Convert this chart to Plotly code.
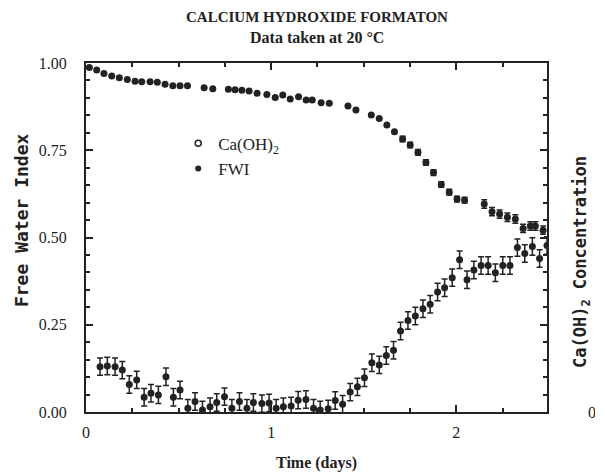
import plotly.graph_objects as go

# Free Water Index
fwi_t = [0.018, 0.058, 0.097, 0.139, 0.180, 0.223, 0.265, 0.301, 0.346, 0.385,
         0.427, 0.469, 0.508, 0.548, 0.638, 0.685, 0.769, 0.805, 0.842, 0.881,
         0.924, 0.977, 1.022, 1.063, 1.103, 1.148, 1.189, 1.222, 1.270, 1.314,
         1.415, 1.458, 1.541, 1.584, 1.625, 1.666, 1.710, 1.751, 1.793, 1.836,
         1.877, 1.919, 1.962, 2.004, 2.045, 2.151, 2.193, 2.234, 2.276, 2.319,
         2.361, 2.400, 2.427, 2.469]
fwi = [0.987, 0.980, 0.970, 0.963, 0.958, 0.953, 0.948, 0.946, 0.946, 0.945,
       0.939, 0.935, 0.935, 0.935, 0.929, 0.926, 0.925, 0.923, 0.922, 0.920,
       0.913, 0.910, 0.901, 0.908, 0.897, 0.903, 0.894, 0.894, 0.886, 0.885,
       0.877, 0.865, 0.851, 0.841, 0.822, 0.803, 0.782, 0.765, 0.744, 0.715,
       0.686, 0.652, 0.630, 0.610, 0.607, 0.596, 0.574, 0.567, 0.558, 0.553,
       0.526, 0.533, 0.533, 0.521]
fwi_err = [0] * 36 + [0.008] * 9 + [0.012] * 9

# Ca(OH)2 concentration
ca_t = [0.076, 0.115, 0.157, 0.196, 0.234, 0.274, 0.314, 0.351, 0.391, 0.432,
        0.472, 0.508, 0.550, 0.589, 0.629, 0.670, 0.706, 0.748, 0.788, 0.829,
        0.869, 0.904, 0.950, 0.989, 1.027, 1.066, 1.108, 1.146, 1.188, 1.229,
        1.265, 1.308, 1.346, 1.386, 1.427, 1.466, 1.504, 1.544, 1.584, 1.622,
        1.661, 1.699, 1.739, 1.779, 1.820, 1.859, 1.899, 1.937, 1.978, 2.018,
        2.058, 2.095, 2.134, 2.172, 2.211, 2.251, 2.290, 2.330, 2.370, 2.411,
        2.450, 2.490]
ca = [0.130, 0.132, 0.130, 0.120, 0.079, 0.092, 0.042, 0.054, 0.049, 0.101,
      0.042, 0.063, 0.011, 0.030, 0.006, 0.015, 0.027, 0.044, 0.011, 0.030,
      0.011, 0.027, 0.024, 0.026, 0.011, 0.015, 0.017, 0.034, 0.036, 0.011,
      0.006, 0.009, 0.033, 0.022, 0.057, 0.072, 0.098, 0.141, 0.135, 0.162,
      0.177, 0.232, 0.262, 0.275, 0.296, 0.309, 0.344, 0.356, 0.385, 0.436,
      0.379, 0.407, 0.420, 0.420, 0.399, 0.420, 0.420, 0.471, 0.454, 0.474,
      0.440, 0.477]
ca_err = 0.025

serif = "Liberation Serif"
mono = "DejaVu Sans Mono"
ink = "#222"

fig = go.Figure()
fig.add_trace(go.Scatter(
    x=ca_t, y=ca, mode="markers", showlegend=False,
    marker=dict(symbol="circle", size=7, color=ink),
    error_y=dict(type="constant", value=ca_err, color=ink, thickness=1.5, width=3),
))
fig.add_trace(go.Scatter(
    x=fwi_t, y=fwi, mode="markers", showlegend=False,
    marker=dict(symbol="circle", size=7, color=ink),
    error_y=dict(type="data", array=fwi_err, color=ink, thickness=1.5, width=3),
))
# legend entries
fig.add_trace(go.Scatter(
    x=[None], y=[None], mode="markers", name="Ca(OH)<sub>2</sub>",
    marker=dict(symbol="circle-open", size=6, color=ink, line=dict(width=1.5)),
))
fig.add_trace(go.Scatter(
    x=[None], y=[None], mode="markers", name="FWI",
    marker=dict(symbol="circle", size=6, color=ink),
))
fig.add_trace(go.Scatter(x=[None], y=[None], yaxis="y2", showlegend=False))

# the page body adds an 8px offset, so the figure is drawn 8px smaller
fig.update_layout(
    width=595, height=466,
    margin=dict(l=78, r=56, t=55, b=62),
    plot_bgcolor="white", paper_bgcolor="white",
    font=dict(family=serif, size=15, color=ink),
    legend=dict(x=0.2, y=0.82, xanchor="left", yanchor="top",
                bgcolor="rgba(0,0,0,0)", font=dict(family=serif, size=17),
                itemwidth=30, tracegroupgap=0),
    xaxis=dict(range=[0, 2.49], tickvals=[0, 1, 2], ticktext=["0", "1", "2"],
               ticks="inside", ticklen=7, tickwidth=1.5, tickcolor=ink,
               minor=dict(dtick=0.25, ticks="inside", ticklen=4, tickcolor=ink),
               showline=True, linewidth=2, linecolor=ink, mirror="ticks",
               showgrid=False, zeroline=False, ticklabelstandoff=5,
               automargin=False, tickfont=dict(family=serif, size=16)),
    yaxis=dict(range=[0, 1], dtick=0.25, tickformat=".2f",
               ticks="inside", ticklen=7, tickwidth=1.5, tickcolor=ink,
               minor=dict(dtick=0.05, ticks="inside", ticklen=4, tickcolor=ink),
               showline=True, linewidth=2, linecolor=ink, mirror="ticks",
               showgrid=False, zeroline=False, ticklabelstandoff=14,
               automargin=False, tickfont=dict(family=serif, size=16)),
    yaxis2=dict(overlaying="y", side="right", anchor="x", range=[0, 1],
                tickvals=[0], ticktext=["0"], ticks="", showline=False,
                showgrid=False, zeroline=False, ticklabelstandoff=40,
                automargin=False, tickfont=dict(family=serif, size=16)),
    annotations=[
        dict(text="<b>CALCIUM HYDROXIDE FORMATON</b>", x=0.5, y=1.0, xref="paper",
             yref="paper", yanchor="bottom", yshift=36, showarrow=False,
             font=dict(family=serif, size=15)),
        dict(text="<b>Data taken at 20 °C</b>", x=0.5, y=1.0, xref="paper",
             yref="paper", yanchor="bottom", yshift=15, showarrow=False,
             font=dict(family=serif, size=16)),
        dict(text="<b>Time (days)</b>", x=0.5, y=-0.145, xref="paper", yref="paper",
             showarrow=False, yanchor="middle", font=dict(family=serif, size=16)),
        dict(text="<b>Free Water Index</b>", x=-0.141, y=0.55, xref="paper",
             yref="paper", xanchor="center", yanchor="middle", showarrow=False,
             textangle=-90, font=dict(family=mono, size=18)),
        dict(text="<b>Ca(OH)<sub>2</sub> Concentration</b>", x=1.076, y=0.43,
             xref="paper", yref="paper", xanchor="center", yanchor="middle",
             showarrow=False, textangle=-90, font=dict(family=mono, size=17)),
    ],
)

fig.write_html("out.html")
